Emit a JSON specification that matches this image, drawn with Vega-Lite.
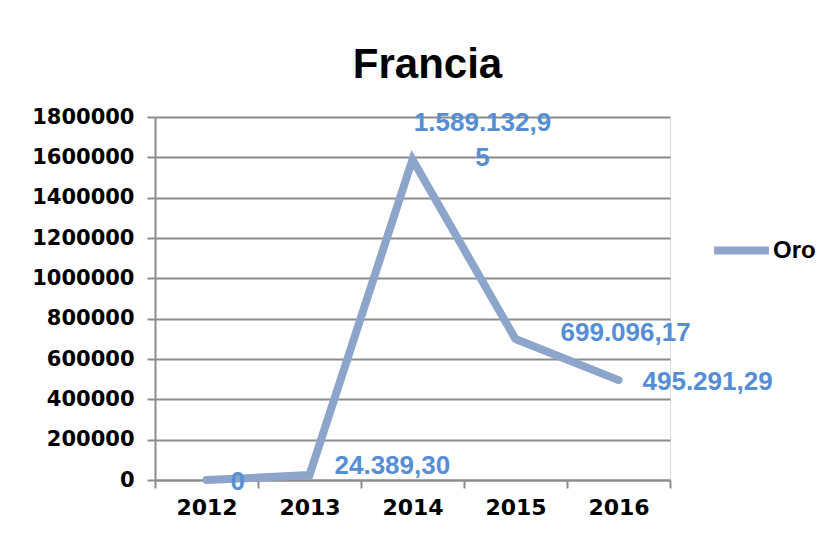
{
  "$schema": "https://vega.github.io/schema/vega-lite/v6.json",
  "width": 515,
  "height": 363,
  "autosize": "none",
  "padding": {"left": 155, "top": 117, "right": 160, "bottom": 56},
  "background": "white",
  "title": {
    "text": "Francia",
    "font": "Liberation Sans",
    "fontSize": 42,
    "fontWeight": "bold",
    "color": "#000000",
    "anchor": "middle",
    "dx": 15,
    "offset": 19
  },
  "data": {
    "values": [
      {"year": "2012", "value": 0, "label": "0", "serie": "Oro", "pos": "a"},
      {"year": "2013", "value": 24389.30, "label": "24.389,30", "serie": "Oro", "pos": "b"},
      {"year": "2014", "value": 1589132.95, "label": "1.589.132,9\n5", "serie": "Oro", "pos": "d"},
      {"year": "2015", "value": 699096.17, "label": "699.096,17", "serie": "Oro", "pos": "c"},
      {"year": "2016", "value": 495291.29, "label": "495.291,29", "serie": "Oro", "pos": "a"}
    ]
  },
  "encoding": {
    "x": {
      "field": "year",
      "type": "ordinal",
      "title": null,
      "scale": {"paddingInner": 0, "paddingOuter": 0},
      "axis": {
        "labelAngle": 0,
        "labelFont": "DejaVu Sans",
        "labelFontSize": 22,
        "labelFontWeight": "bold",
        "labelColor": "#000000",
        "labelPadding": 9,
        "tickBand": "extent",
        "tickSize": 8,
        "tickColor": "#8c8c8c",
        "tickWidth": 2,
        "domainColor": "#8c8c8c",
        "domainWidth": 2,
        "grid": false
      }
    },
    "y": {
      "field": "value",
      "type": "quantitative",
      "title": null,
      "scale": {"domain": [0, 1800000], "nice": false},
      "axis": {
        "values": [0, 200000, 400000, 600000, 800000, 1000000, 1200000, 1400000, 1600000, 1800000],
        "format": "d",
        "labelFont": "DejaVu Sans",
        "labelFontSize": 21,
        "labelFontWeight": "bold",
        "labelColor": "#000000",
        "labelPadding": 13,
        "tickSize": 8,
        "tickColor": "#8c8c8c",
        "tickWidth": 2,
        "domainColor": "#8c8c8c",
        "domainWidth": 2,
        "grid": true,
        "gridColor": "#8c8c8c",
        "gridWidth": 2
      }
    }
  },
  "layer": [
    {
      "mark": {"type": "line", "strokeWidth": 8, "strokeCap": "round", "strokeJoin": "miter"},
      "encoding": {
        "color": {
          "field": "serie",
          "type": "nominal",
          "scale": {"range": ["#8ea5cb"]},
          "legend": {
            "title": null,
            "orient": "none",
            "legendX": 555,
            "legendY": 102,
            "padding": 0,
            "symbolType": "stroke",
            "symbolStrokeWidth": 8,
            "symbolSize": 3000,
            "labelFont": "Liberation Sans",
            "labelFontSize": 24,
            "labelFontWeight": "bold",
            "labelColor": "#000000",
            "labelOffset": 0
          }
        }
      }
    },
    {
      "transform": [{"filter": "datum.pos == 'a'"}],
      "mark": {"type": "text", "align": "left", "baseline": "middle", "dx": 24, "dy": 2, "font": "Liberation Sans", "fontSize": 26, "fontWeight": "bold", "color": "#558ed5"},
      "encoding": {"text": {"field": "label"}}
    },
    {
      "transform": [{"filter": "datum.pos == 'b'"}],
      "mark": {"type": "text", "align": "left", "baseline": "middle", "dx": 25, "dy": -9, "font": "Liberation Sans", "fontSize": 26, "fontWeight": "bold", "color": "#558ed5"},
      "encoding": {"text": {"field": "label"}}
    },
    {
      "transform": [{"filter": "datum.pos == 'c'"}],
      "mark": {"type": "text", "align": "left", "baseline": "middle", "dx": 45, "dy": -6, "font": "Liberation Sans", "fontSize": 26, "fontWeight": "bold", "color": "#558ed5"},
      "encoding": {"text": {"field": "label"}}
    },
    {
      "transform": [{"filter": "datum.pos == 'd'"}],
      "mark": {"type": "text", "align": "center", "baseline": "bottom", "lineBreak": "\n", "lineHeight": 35, "dx": 70, "dy": -24, "font": "Liberation Sans", "fontSize": 26, "fontWeight": "bold", "color": "#558ed5"},
      "encoding": {"text": {"field": "label"}}
    }
  ]
}
